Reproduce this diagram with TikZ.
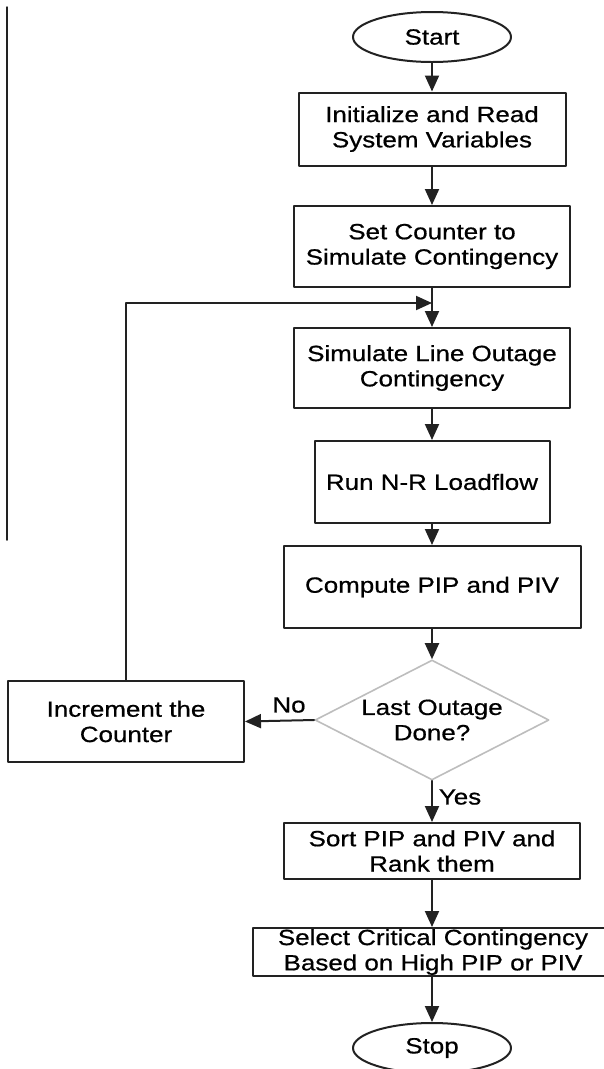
\documentclass[tikz,border=0pt]{standalone}
\usepackage{fontspec}
\setmainfont{Liberation Sans}[FakeStretch=1.18,FakeBold=0.7]
\usepackage{tikz}
\usetikzlibrary{arrows.meta,shapes.geometric}
\definecolor{ink}{HTML}{222222}
\definecolor{rhomb}{HTML}{BDBDBD}
\tikzset{
  every picture/.style={line join=round, line cap=round, >={Triangle[length=16pt,width=14pt]}},
}
\begin{document}
\begin{tikzpicture}[x=1pt,y=-1pt,
  box/.style={rectangle,draw=ink,line width=2pt,align=center,inner sep=0pt,font=\fontsize{22}{25.3}\selectfont},
  term/.style={ellipse,draw=ink,line width=2pt,inner sep=0pt,font=\fontsize{22}{25.3}\selectfont,minimum width=158,minimum height=50},
  test/.style={diamond,draw=rhomb,line width=1.6pt,aspect=2,align=center,inner sep=0pt,font=\fontsize{22}{25.3}\selectfont,minimum width=234,minimum height=120},
  tag/.style={font=\fontsize{22}{25.3}\selectfont,inner sep=0pt},
  link/.style={->,draw=ink,line width=2pt}]
\useasboundingbox (0,0) rectangle (604,1069);
\clip (0,0) rectangle (604,1069);
\draw[ink,line width=1.5pt] (7,7)--(7,540);
\node[term] (start) at (432,37) {Start};
\node[box,minimum width=267,minimum height=73] (init) at (432,129) {Initialize and Read\\System Variables};
\node[box,minimum width=276,minimum height=81] (setc) at (432,246.5) {Set Counter to\\Simulate Contingency};
\node[box,minimum width=276,minimum height=80] (outage) at (432,368) {Simulate Line Outage\\Contingency};
\node[box,minimum width=235,minimum height=82] (flow) at (432,482) {Run N-R Loadflow};
\node[box,minimum width=297,minimum height=82] (pip) at (432,587) {Compute PIP and PIV};
\node[test] (last) at (432,720) {Last Outage\\Done?};
\node[box,minimum width=236,minimum height=81] (inc) at (126,721.5) {Increment the\\Counter};
\node[box,minimum width=296,minimum height=56] (sort) at (432,851) {Sort PIP and PIV and\\Rank them};
\node[box,minimum width=360,minimum height=48] (select) at (433,952) {Select Critical Contingency\\Based on High PIP or PIV};
\node[term] (stop) at (432,1048) {Stop};
\coordinate (join) at (432,303);
\draw[link] (start)--(init);
\draw[link] (init)--(setc);
\draw[link] (setc)--(outage);
\draw[link] (outage)--(flow);
\draw[link] (flow)--(pip);
\draw[link] (pip)--(last);
\draw[link] (last.west)--(inc.east);
\draw[link] (inc.north)|-(join);
\draw[link] (last.south)--(sort.north);
\draw[link] (sort.south)--(select.north-|sort.south);
\draw[link] (select.south-|stop.north)--(stop.north);
\node[tag] (no) at (289,705) {No};
\node[tag] (yes) at (460,797) {Yes};
\end{tikzpicture}
\end{document}
